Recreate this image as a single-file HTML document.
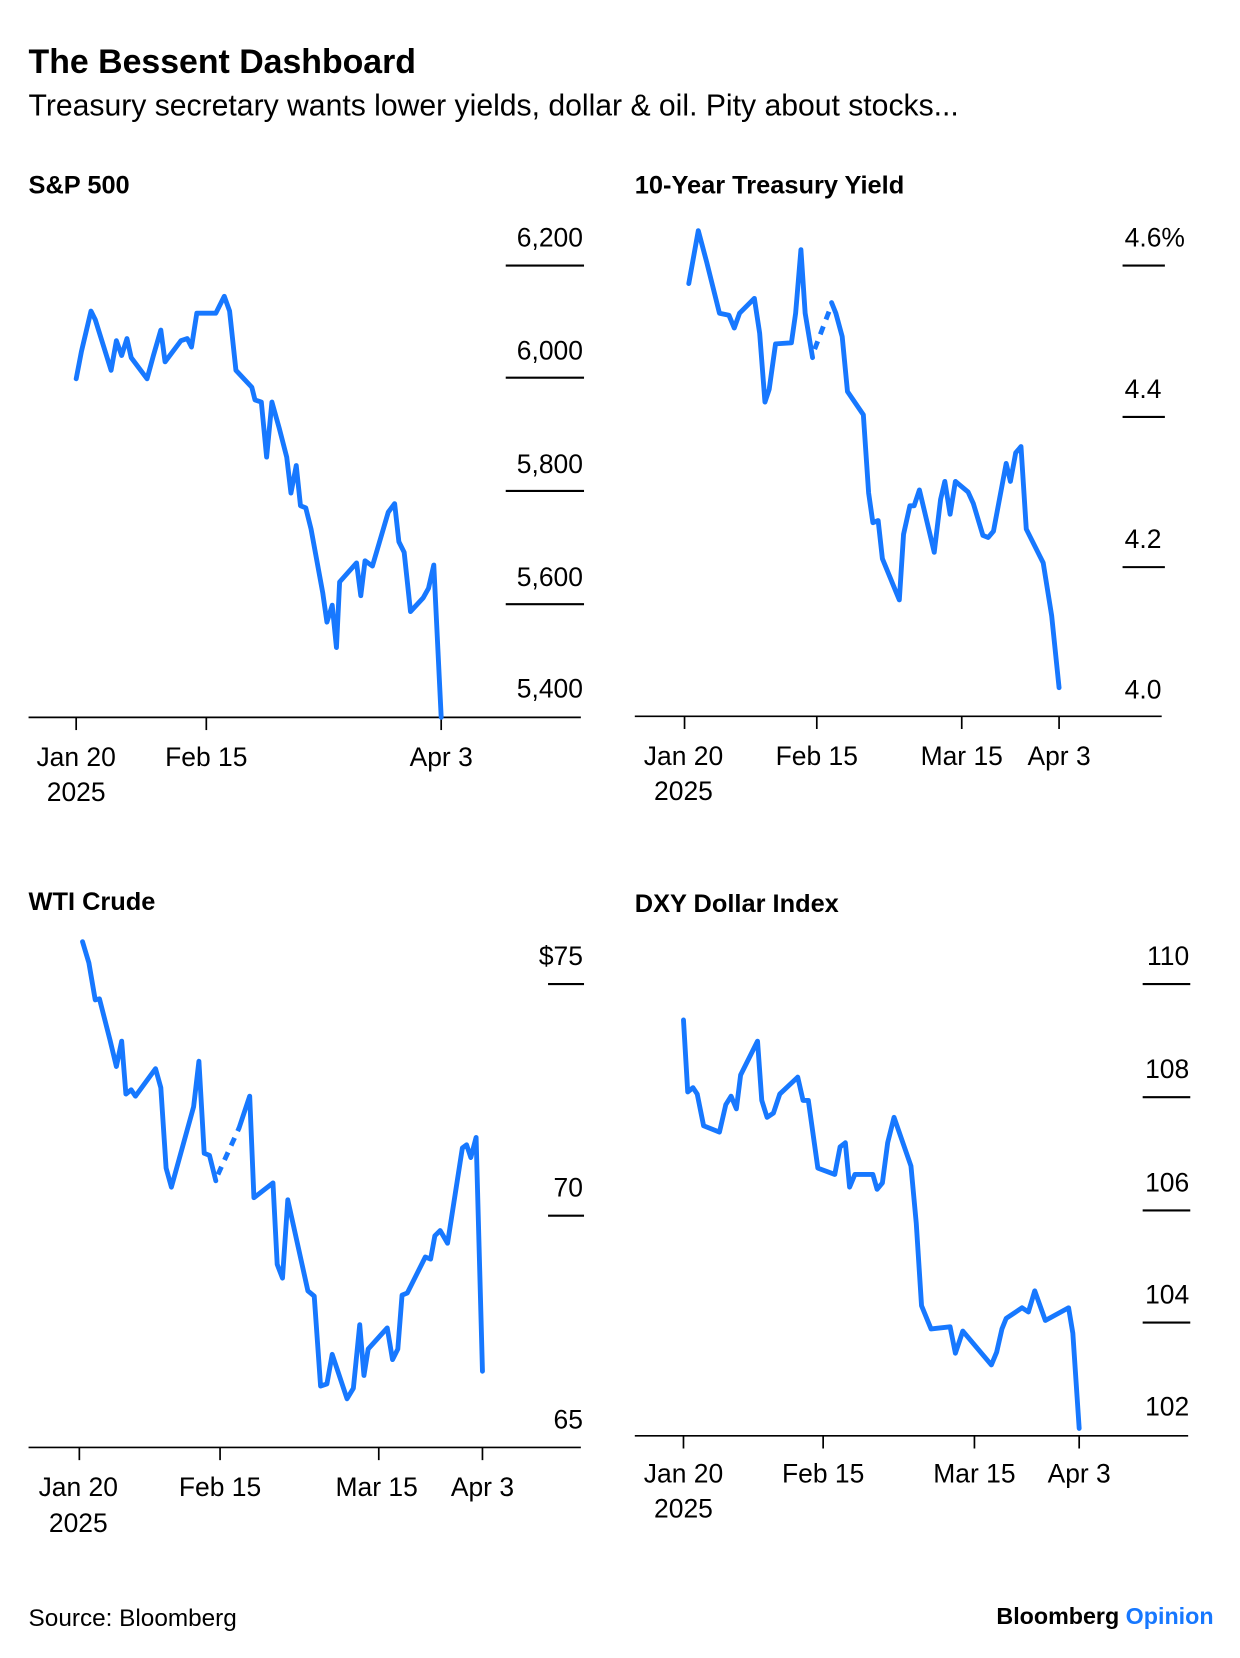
<!DOCTYPE html>
<html><head><meta charset="utf-8"><style>
html,body{margin:0;padding:0;background:#fff;}
svg{display:block;}
text{font-family:"Liberation Sans",Arial,sans-serif;fill:#000;}
.t{font-size:25px;}
.b{font-weight:bold;}
.s{fill:none;stroke:#1778ff;stroke-width:4.6;stroke-linejoin:round;stroke-linecap:round;}
.d{fill:none;stroke:#1778ff;stroke-width:4.6;stroke-dasharray:8,7;}
.ax{stroke:#000;stroke-width:1.6;}
.g{stroke:#000;stroke-width:2;}
</style></head><body>
<svg width="1240" height="1658" viewBox="0 0 1172 1567" preserveAspectRatio="none" xmlns="http://www.w3.org/2000/svg">
<text x="27" y="69" class="b" font-size="32">The Bessent Dashboard</text>
<text x="27" y="109" font-size="28.5">Treasury secretary wants lower yields, dollar &amp; oil. Pity about stocks...</text>

<!-- S&P 500 -->
<text x="27" y="183" class="b" font-size="24">S&amp;P 500</text>
<g class="t" text-anchor="end">
<text x="551" y="233">6,200</text><text x="551" y="340">6,000</text><text x="551" y="447">5,800</text><text x="551" y="554">5,600</text><text x="551" y="659">5,400</text>
</g>
<g class="g"><line x1="478" x2="552" y1="251" y2="251"/><line x1="478" x2="552" y1="357" y2="357"/><line x1="478" x2="552" y1="464" y2="464"/><line x1="478" x2="552" y1="571" y2="571"/></g>
<line class="ax" x1="27" x2="549" y1="678" y2="678"/>
<g class="ax"><line x1="72" x2="72" y1="678" y2="690"/><line x1="195" x2="195" y1="678" y2="690"/><line x1="417" x2="417" y1="678" y2="690"/></g>
<g class="t" text-anchor="middle"><text x="72" y="724">Jan 20</text><text x="72" y="757">2025</text><text x="195" y="724">Feb 15</text><text x="417" y="724">Apr 3</text></g>
<polyline class="s" points="72,358 77,332 86,294 90,302 105,350 110,322 115,336 120,320 124,338 139,358 145,336 152,312 156,342 171,322 177,320 181,328 186,296 204,296 212,280 217,294 223,350 238,366 241,378 247,380 252,432 257,380 264,405 271,432 275,466 280,440 284,478 289,480 294,500 305,560 309,588 314,572 318,612 321,550 337,532 341,563 345,530 352,535 367,484 373,476 377,512 382,522 388,578 400,565 405,556 410,534 417,678"/>

<!-- 10Y -->
<text x="600" y="183" class="b" font-size="24">10-Year Treasury Yield</text>
<g class="t"><text x="1063" y="233">4.6%</text><text x="1063" y="376">4.4</text><text x="1063" y="518">4.2</text><text x="1063" y="660">4.0</text></g>
<g class="g"><line x1="1061" x2="1101" y1="251" y2="251"/><line x1="1061" x2="1101" y1="394" y2="394"/><line x1="1061" x2="1101" y1="536" y2="536"/></g>
<line class="ax" x1="600" x2="1098" y1="677" y2="677"/>
<g class="ax"><line x1="647" x2="647" y1="677" y2="689"/><line x1="772" x2="772" y1="677" y2="689"/><line x1="909" x2="909" y1="677" y2="689"/><line x1="1001" x2="1001" y1="677" y2="689"/></g>
<g class="t" text-anchor="middle"><text x="646" y="723">Jan 20</text><text x="646" y="756">2025</text><text x="772" y="723">Feb 15</text><text x="909" y="723">Mar 15</text><text x="1001" y="723">Apr 3</text></g>
<polyline class="s" points="651,268 660,218 668,248 680,296 689,298 694,310 699,296 713,282 718,315 723,380 727,368 733,325 748,324 752,296 757,236 761,296 768,338"/>
<polyline class="d" points="770,330 786,288"/>
<polyline class="s" points="786,286 790,296 796,318 801,370 816,392 821,466 825,494 830,492 834,528 850,567 854,505 860,478 864,478 869,463 883,522 889,472 893,455 898,486 903,455 915,465 920,476 929,506 934,508 939,502 951,438 955,455 960,428 965,422 970,500 986,532 994,582 1001,650"/>

<!-- WTI -->
<text x="27" y="860" class="b" font-size="24">WTI Crude</text>
<g class="t" text-anchor="end"><text x="551" y="912">$75</text><text x="551" y="1131">70</text><text x="551" y="1350">65</text></g>
<g class="g"><line x1="518" x2="552" y1="930" y2="930"/><line x1="518" x2="552" y1="1149" y2="1149"/></g>
<line class="ax" x1="27" x2="549" y1="1368" y2="1368"/>
<g class="ax"><line x1="75" x2="75" y1="1368" y2="1380"/><line x1="208" x2="208" y1="1368" y2="1380"/><line x1="358" x2="358" y1="1368" y2="1380"/><line x1="456" x2="456" y1="1368" y2="1380"/></g>
<g class="t" text-anchor="middle"><text x="74" y="1414">Jan 20</text><text x="74" y="1448">2025</text><text x="208" y="1414">Feb 15</text><text x="356" y="1414">Mar 15</text><text x="456" y="1414">Apr 3</text></g>
<polyline class="s" points="78,890 84,910 90,945 94,944 104,983 110,1008 115,984 119,1034 124,1030 128,1036 147,1010 152,1028 157,1104 162,1122 183,1046 188,1003 193,1090 198,1092 204,1116"/>
<polyline class="d" points="206,1110 226,1066"/>
<polyline class="s" points="226,1066 236,1036 240,1132 258,1118 262,1195 267,1208 272,1134 291,1220 297,1225 303,1310 309,1308 314,1280 328,1322 334,1312 340,1252 344,1300 348,1275 366,1255 371,1285 376,1275 380,1224 385,1222 402,1188 407,1190 411,1168 416,1163 423,1175 437,1085 441,1082 445,1094 450,1075 456,1296"/>

<!-- DXY -->
<text x="600" y="862" class="b" font-size="24">DXY Dollar Index</text>
<g class="t" text-anchor="end"><text x="1124" y="912">110</text><text x="1124" y="1019">108</text><text x="1124" y="1126">106</text><text x="1124" y="1232">104</text><text x="1124" y="1338">102</text></g>
<g class="g"><line x1="1080" x2="1125" y1="930" y2="930"/><line x1="1080" x2="1125" y1="1037" y2="1037"/><line x1="1080" x2="1125" y1="1144" y2="1144"/><line x1="1080" x2="1125" y1="1250" y2="1250"/></g>
<line class="ax" x1="600" x2="1123" y1="1357" y2="1357"/>
<g class="ax"><line x1="646" x2="646" y1="1357" y2="1369"/><line x1="778" x2="778" y1="1357" y2="1369"/><line x1="921" x2="921" y1="1357" y2="1369"/><line x1="1020" x2="1020" y1="1357" y2="1369"/></g>
<g class="t" text-anchor="middle"><text x="646" y="1401">Jan 20</text><text x="646" y="1434">2025</text><text x="778" y="1401">Feb 15</text><text x="921" y="1401">Mar 15</text><text x="1020" y="1401">Apr 3</text></g>
<polyline class="s" points="646,964 650,1032 655,1028 659,1034 665,1064 680,1070 686,1044 691,1036 696,1048 700,1016 716,984 720,1040 725,1056 731,1052 737,1034 754,1018 759,1040 764,1040 773,1104 789,1110 794,1084 799,1080 803,1122 808,1110 825,1110 829,1124 834,1118 839,1080 845,1056 861,1102 866,1156 871,1234 880,1256 898,1254 903,1279 910,1258 937,1290 942,1278 947,1256 951,1246 966,1236 972,1240 978,1220 988,1248 1010,1236 1014,1260 1020,1350"/>

<text x="27" y="1537" font-size="23">Source: Bloomberg</text>
<text x="1147" y="1535" text-anchor="end" class="b" font-size="22">Bloomberg <tspan style="fill:#1778ff">Opinion</tspan></text>
</svg>
</body></html>
